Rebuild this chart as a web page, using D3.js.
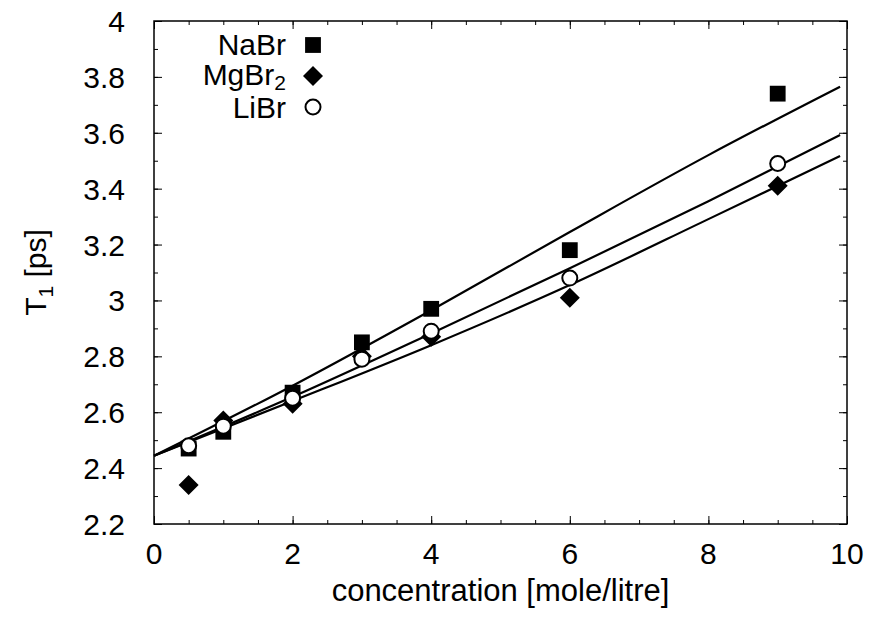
<!DOCTYPE html>
<html>
<head>
<meta charset="utf-8">
<script src="https://cdn.jsdelivr.net/npm/d3@7"></script>
<style>
  body { margin: 0; background: #fff; overflow: hidden; }
  text { font-family: "Liberation Sans", Arial, sans-serif; fill: #000; }
</style>
</head>
<body>
<div id="chart"></div>
<script>
var svgWidth = 869;
var svgHeight = 617;

var margin = { top: 21, right: 22, bottom: 93, left: 154 };
var chartWidth = svgWidth - margin.left - margin.right;
var chartHeight = svgHeight - margin.top - margin.bottom;

// measured points
var concentrations = [0.5, 1, 2, 3, 4, 6, 9];
var nabrValues = [2.47, 2.53, 2.67, 2.85, 2.97, 3.18, 3.74];
var mgbr2Values = [2.34, 2.57, 2.63, 2.80, 2.87, 3.01, 3.41];
var librValues = [2.48, 2.55, 2.65, 2.79, 2.89, 3.08, 3.49];

// fitted curves
var fitX = [0, 2, 4, 6, 8, 9.9];
var nabrFit = [2.444, 2.695, 2.965, 3.245, 3.520, 3.765];
var librFit = [2.444, 2.655, 2.882, 3.115, 3.355, 3.592];
var mgbr2Fit = [2.444, 2.640, 2.840, 3.055, 3.291, 3.517];

var xTicks = [0, 2, 4, 6, 8, 10];
var yTicks = [2.2, 2.4, 2.6, 2.8, 3, 3.2, 3.4, 3.6, 3.8, 4];

var fontSize = 30;

var svg = d3.select("#chart")
  .append("svg")
  .attr("width", svgWidth)
  .attr("height", svgHeight)
  .style("display", "block");

var chartGroup = svg.append("g")
  .attr("transform", `translate(${margin.left}, ${margin.top})`);

var xScale = d3.scaleLinear().domain([0, 10]).range([0, chartWidth]);
var yScale = d3.scaleLinear().domain([2.2, 4]).range([chartHeight, 0]);

// minor ticks
var xMinor = d3.range(0, 10.01, 0.5);
var yMinor = d3.range(2.2, 4.001, 0.1);

function tickAxis(makeAxis, scale, minorVals, majorVals, transform) {
  [[minorVals, 4], [majorVals, 8]].forEach(function(t) {
    var g = chartGroup.append("g").attr("transform", transform);
    g.call(makeAxis(scale).tickValues(t[0]).tickSize(t[1]).tickFormat(""));
    g.select(".domain").remove();
  });
}

// inward ticks on all four sides
tickAxis(d3.axisTop, xScale, xMinor, xTicks, `translate(0, ${chartHeight})`);
tickAxis(d3.axisBottom, xScale, xMinor, xTicks, "translate(0, 0)");
tickAxis(d3.axisRight, yScale, yMinor, yTicks, "translate(0, 0)");
tickAxis(d3.axisLeft, yScale, yMinor, yTicks, `translate(${chartWidth}, 0)`);

chartGroup.selectAll(".tick line").attr("stroke", "#000").attr("stroke-width", 1);

chartGroup.append("rect")
  .attr("width", chartWidth)
  .attr("height", chartHeight)
  .attr("fill", "none")
  .attr("stroke", "#000")
  .attr("stroke-width", 1.5);

// tick labels
chartGroup.selectAll(".xlabel")
  .data(xTicks)
  .enter()
  .append("text")
  .attr("x", d => xScale(d))
  .attr("y", chartHeight + 40)
  .attr("text-anchor", "middle")
  .attr("font-size", fontSize + "px")
  .text(d => d);

chartGroup.selectAll(".ylabel")
  .data(yTicks)
  .enter()
  .append("text")
  .attr("x", -29)
  .attr("y", d => yScale(d) + 11)
  .attr("text-anchor", "end")
  .attr("font-size", fontSize + "px")
  .text(d => d);

chartGroup.append("text")
  .attr("x", chartWidth / 2)
  .attr("y", chartHeight + 77)
  .attr("text-anchor", "middle")
  .attr("font-size", "31px")
  .text("concentration [mole/litre]");

var yTitle = svg.append("text")
  .attr("transform", `translate(46, ${margin.top + chartHeight / 2}) rotate(-90)`)
  .attr("text-anchor", "middle")
  .attr("font-size", fontSize + "px");
yTitle.append("tspan").text("T");
yTitle.append("tspan").attr("font-size", "21px").attr("dy", 7).text("1");
yTitle.append("tspan").attr("dy", -7).text(" [ps]");

// fit lines
var line = d3.line()
  .x(d => xScale(d[0]))
  .y(d => yScale(d[1]))
  .curve(d3.curveMonotoneX);

[nabrFit, librFit, mgbr2Fit].forEach(function(fit) {
  chartGroup.append("path")
    .datum(fitX.map((x, i) => [x, fit[i]]))
    .attr("d", line)
    .attr("fill", "none")
    .attr("stroke", "#000")
    .attr("stroke-width", 2.2);
});

var squareSym = d3.symbol().type(d3.symbolSquare).size(250);

function drawDiamond(sel) {
  sel.attr("d", d3.symbol().type(d3.symbolSquare).size(200)())
    .attr("fill", "#000");
}

// MgBr2 diamonds
chartGroup.append("g").selectAll("path")
  .data(concentrations.map((c, i) => [c, mgbr2Values[i]]))
  .enter()
  .append("path")
  .attr("transform", d => `translate(${xScale(d[0])}, ${yScale(d[1])}) rotate(45)`)
  .call(drawDiamond);

// NaBr squares
chartGroup.append("g").selectAll("path")
  .data(concentrations.map((c, i) => [c, nabrValues[i]]))
  .enter()
  .append("path")
  .attr("transform", d => `translate(${xScale(d[0])}, ${yScale(d[1])})`)
  .attr("d", squareSym())
  .attr("fill", "#000");

// LiBr circles
chartGroup.append("g").selectAll("circle")
  .data(concentrations.map((c, i) => [c, librValues[i]]))
  .enter()
  .append("circle")
  .attr("cx", d => xScale(d[0]))
  .attr("cy", d => yScale(d[1]))
  .attr("r", 7.5)
  .attr("fill", "#fff")
  .attr("stroke", "#000")
  .attr("stroke-width", 2);

// legend
var legendX = 286 - margin.left;
var legendMarkX = 313 - margin.left;
var legendRows = [24, 55, 86];

chartGroup.append("text").attr("x", legendX).attr("y", legendRows[0] + 10)
  .attr("text-anchor", "end").attr("font-size", fontSize + "px").text("NaBr");
chartGroup.append("path")
  .attr("transform", `translate(${legendMarkX}, ${legendRows[0]})`)
  .attr("d", squareSym()).attr("fill", "#000");

var l2 = chartGroup.append("text").attr("x", legendX).attr("y", legendRows[1] + 9)
  .attr("text-anchor", "end").attr("font-size", fontSize + "px");
l2.append("tspan").text("MgBr");
l2.append("tspan").attr("font-size", "21px").attr("dy", 5).text("2");
chartGroup.append("path")
  .attr("transform", `translate(${legendMarkX}, ${legendRows[1]}) rotate(45)`)
  .call(drawDiamond);

chartGroup.append("text").attr("x", legendX).attr("y", legendRows[2] + 11)
  .attr("text-anchor", "end").attr("font-size", fontSize + "px").text("LiBr");
chartGroup.append("circle")
  .attr("cx", legendMarkX).attr("cy", legendRows[2]).attr("r", 7.5)
  .attr("fill", "#fff").attr("stroke", "#000").attr("stroke-width", 2);
</script>
</body>
</html>
